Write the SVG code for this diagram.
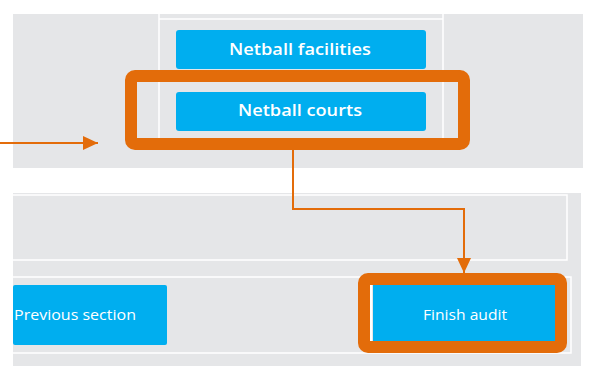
<svg xmlns="http://www.w3.org/2000/svg" width="589" height="366" viewBox="0 0 589 366">
<style>
.panel{fill:#E5E6E8}
.wl{stroke:#FFFFFF;stroke-width:1.5;fill:none}
.btn{fill:#00AEEF}
.bt{fill:#FFFFFF;font-family:"Open Sans","DejaVu Sans",sans-serif}
.hl{fill:none;stroke:#E36C0A;stroke-width:12}
.con{fill:none;stroke:#E36C0A;stroke-width:2}
</style>
<defs>
<marker id="ah" markerWidth="16" markerHeight="14" refX="15" refY="7" orient="auto" markerUnits="userSpaceOnUse">
<path d="M0,0 L15,7 L0,14 Z" fill="#E36C0A"/>
</marker>
</defs>
<rect width="589" height="366" fill="#FFFFFF"/>
<rect class="panel" x="13" y="14" width="570" height="154"/>
<path class="wl" d="M159,14 V138 M443,14 V138 M159,19 H443"/>
<rect class="panel" x="13" y="193" width="568" height="173"/>
<path class="wl" d="M13,195 H567 V260 H13 M13,277 H571 V353 H13"/>
<g id="netball-facilities">
<rect class="btn" x="176" y="30" width="250" height="39" rx="3"/>
<text class="bt" x="300" y="54.5" font-size="17" font-weight="600" text-anchor="middle" textLength="142" lengthAdjust="spacingAndGlyphs">Netball facilities</text>
</g>
<g id="netball-courts">
<rect class="btn" x="176" y="92" width="250" height="39" rx="3"/>
<text class="bt" x="300" y="116" font-size="17" font-weight="600" text-anchor="middle" textLength="124" lengthAdjust="spacingAndGlyphs">Netball courts</text>
<rect class="hl" x="131" y="76" width="333" height="68" rx="4"/>
</g>
<g id="previous-section">
<rect class="btn" x="13" y="285" width="154" height="60" rx="2"/>
<text class="bt" x="14" y="320" font-size="15" textLength="122" lengthAdjust="spacingAndGlyphs">Previous section</text>
</g>
<g id="finish-audit">
<line x1="371" y1="285" x2="371" y2="342" stroke="#FFFFFF" stroke-width="2"/>
<rect class="btn" x="373" y="285" width="183" height="57"/>
<text class="bt" x="465" y="320" font-size="15" text-anchor="middle" textLength="84" lengthAdjust="spacingAndGlyphs">Finish audit</text>
<rect class="hl" x="364" y="279" width="197" height="68" rx="4"/>
</g>
<g id="connectors">
<path class="con" d="M0,143 H98" marker-end="url(#ah)"/>
<path class="con" d="M293,150 V209 H464 V273" marker-end="url(#ah)"/>
</g>
</svg>
